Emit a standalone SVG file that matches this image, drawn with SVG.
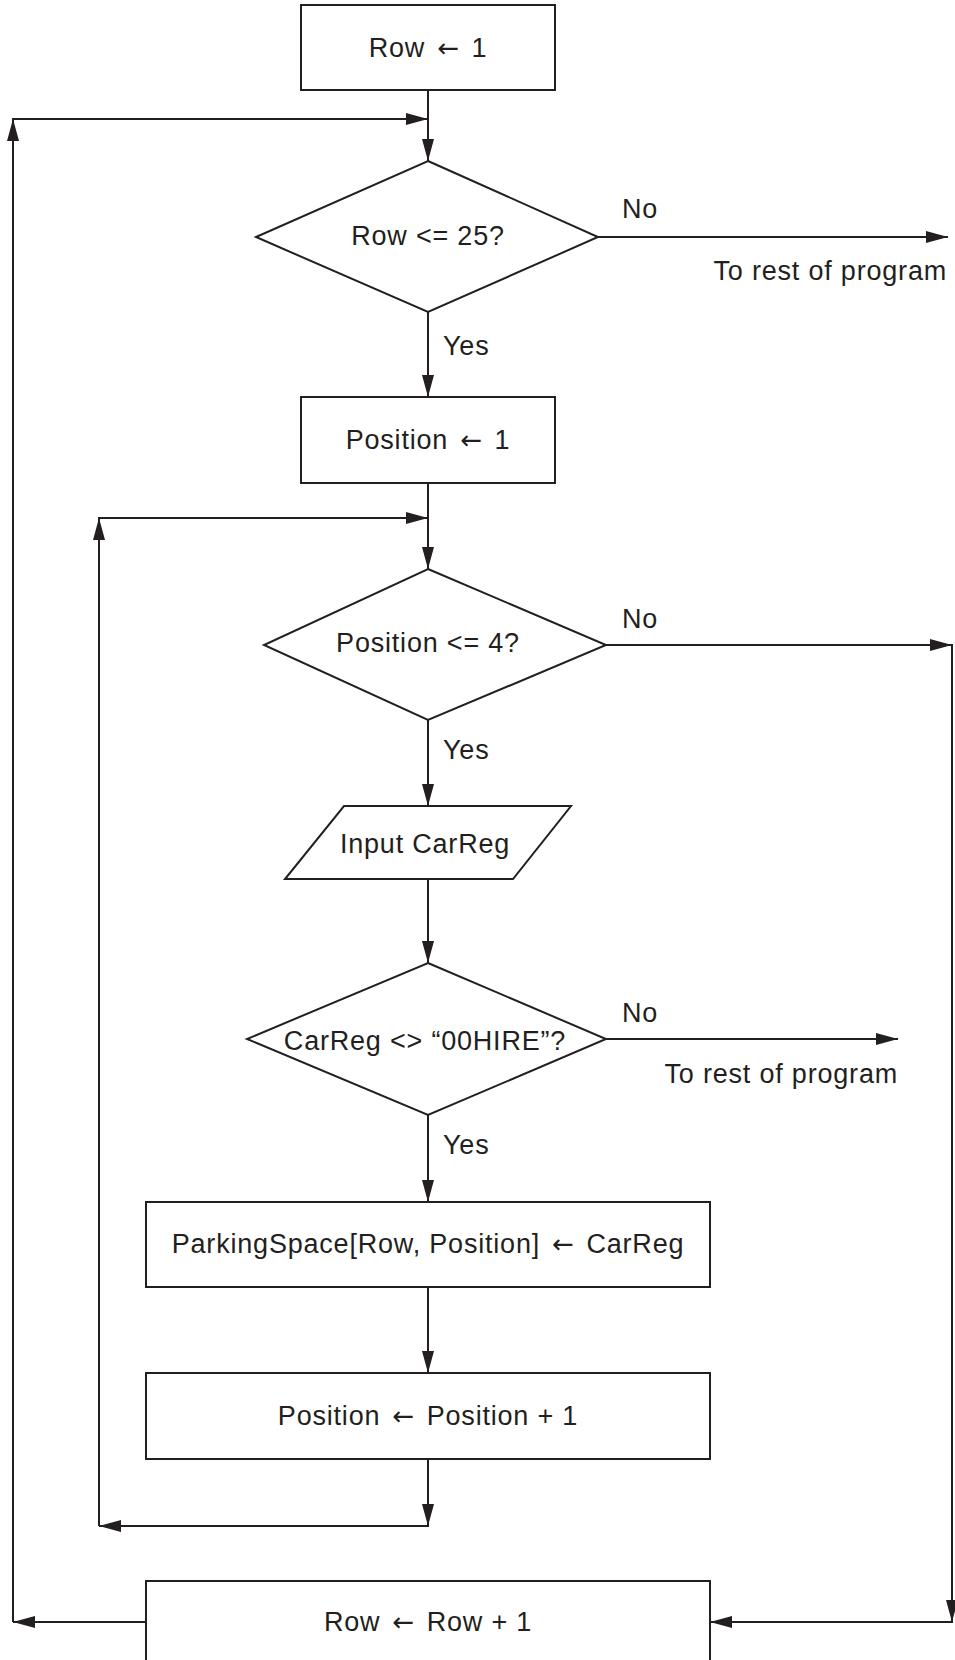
<svg xmlns="http://www.w3.org/2000/svg" width="955" height="1660" viewBox="0 0 955 1660">
<style>
.s{fill:#fff;stroke:#231f20;stroke-width:2}
.c{fill:none;stroke:#231f20;stroke-width:2}
text{font-family:"Liberation Sans",Arial,sans-serif;font-size:27px;fill:#231f20;letter-spacing:0.8px}
.m{text-anchor:middle}
.e{text-anchor:end}
.ar{font-family:"DejaVu Sans",sans-serif;font-size:26px;letter-spacing:4px}
</style>
<defs>
<marker id="a" markerUnits="userSpaceOnUse" markerWidth="22" markerHeight="12" refX="22" refY="6" orient="auto">
<path d="M0,0 L22,6 L0,12 z" fill="#231f20"/>
</marker>
</defs>
<rect width="955" height="1660" fill="#fff"/>
<g id="connectors">
<line class="c" x1="428" y1="90" x2="428" y2="161" marker-end="url(#a)"/>
<line class="c" x1="13" y1="1622" x2="13" y2="119" marker-end="url(#a)"/>
<line class="c" x1="12" y1="119" x2="428" y2="119" marker-end="url(#a)"/>
<line class="c" x1="598" y1="237" x2="948" y2="237" marker-end="url(#a)"/>
<line class="c" x1="428" y1="312" x2="428" y2="397" marker-end="url(#a)"/>
<line class="c" x1="428" y1="483" x2="428" y2="569" marker-end="url(#a)"/>
<line class="c" x1="99" y1="1526" x2="99" y2="518" marker-end="url(#a)"/>
<line class="c" x1="98" y1="518" x2="428" y2="518" marker-end="url(#a)"/>
<line class="c" x1="606" y1="645" x2="952" y2="645" marker-end="url(#a)"/>
<line class="c" x1="952" y1="644" x2="952" y2="1622" marker-end="url(#a)"/>
<line class="c" x1="953" y1="1622" x2="710" y2="1622" marker-end="url(#a)"/>
<line class="c" x1="428" y1="720" x2="428" y2="806" marker-end="url(#a)"/>
<line class="c" x1="428" y1="879" x2="428" y2="963" marker-end="url(#a)"/>
<line class="c" x1="606" y1="1039" x2="898" y2="1039" marker-end="url(#a)"/>
<line class="c" x1="428" y1="1115" x2="428" y2="1202" marker-end="url(#a)"/>
<line class="c" x1="428" y1="1287" x2="428" y2="1373" marker-end="url(#a)"/>
<line class="c" x1="428" y1="1459" x2="428" y2="1526" marker-end="url(#a)"/>
<line class="c" x1="429" y1="1526" x2="99" y2="1526" marker-end="url(#a)"/>
<line class="c" x1="146" y1="1622" x2="13" y2="1622" marker-end="url(#a)"/>
</g>
<g id="labels">
<text x="622" y="218">No</text>
<text class="e" x="947" y="280">To rest of program</text>
<text x="443" y="355">Yes</text>
<text x="622" y="628">No</text>
<text x="443" y="759">Yes</text>
<text x="622" y="1022">No</text>
<text class="e" x="898" y="1083">To rest of program</text>
<text x="443" y="1154">Yes</text>
</g>
<g id="n1"><rect class="s" x="301" y="5" width="254" height="85"/><text class="m" x="428" y="57">Row <tspan class="ar" dx="4">←</tspan> 1</text></g>
<g id="n2"><polygon class="s" points="428,161 598,237 428,312 256,237"/><text class="m" x="428" y="245">Row &lt;= 25?</text></g>
<g id="n3"><rect class="s" x="301" y="397" width="254" height="86"/><text class="m" x="428" y="449">Position <tspan class="ar" dx="4">←</tspan> 1</text></g>
<g id="n4"><polygon class="s" points="428,569 606,645 428,720 264,645"/><text class="m" x="428" y="652">Position &lt;= 4?</text></g>
<g id="n5"><polygon class="s" points="344,806 571,806 513,879 285,879"/><text class="m" x="425" y="853">Input CarReg</text></g>
<g id="n6"><polygon class="s" points="428,963 606,1039 428,1115 247,1039"/><text class="m" x="425" y="1050">CarReg &lt;&gt; “00HIRE”?</text></g>
<g id="n7"><rect class="s" x="146" y="1202" width="564" height="85"/><text class="m" x="428" y="1253">ParkingSpace[Row, Position] <tspan class="ar" dx="4">←</tspan> CarReg</text></g>
<g id="n8"><rect class="s" x="146" y="1373" width="564" height="86"/><text class="m" x="428" y="1425">Position <tspan class="ar" dx="4">←</tspan> Position + 1</text></g>
<g id="n9"><rect class="s" x="146" y="1581" width="564" height="100"/><text class="m" x="428" y="1631">Row <tspan class="ar" dx="4">←</tspan> Row + 1</text></g>
</svg>
